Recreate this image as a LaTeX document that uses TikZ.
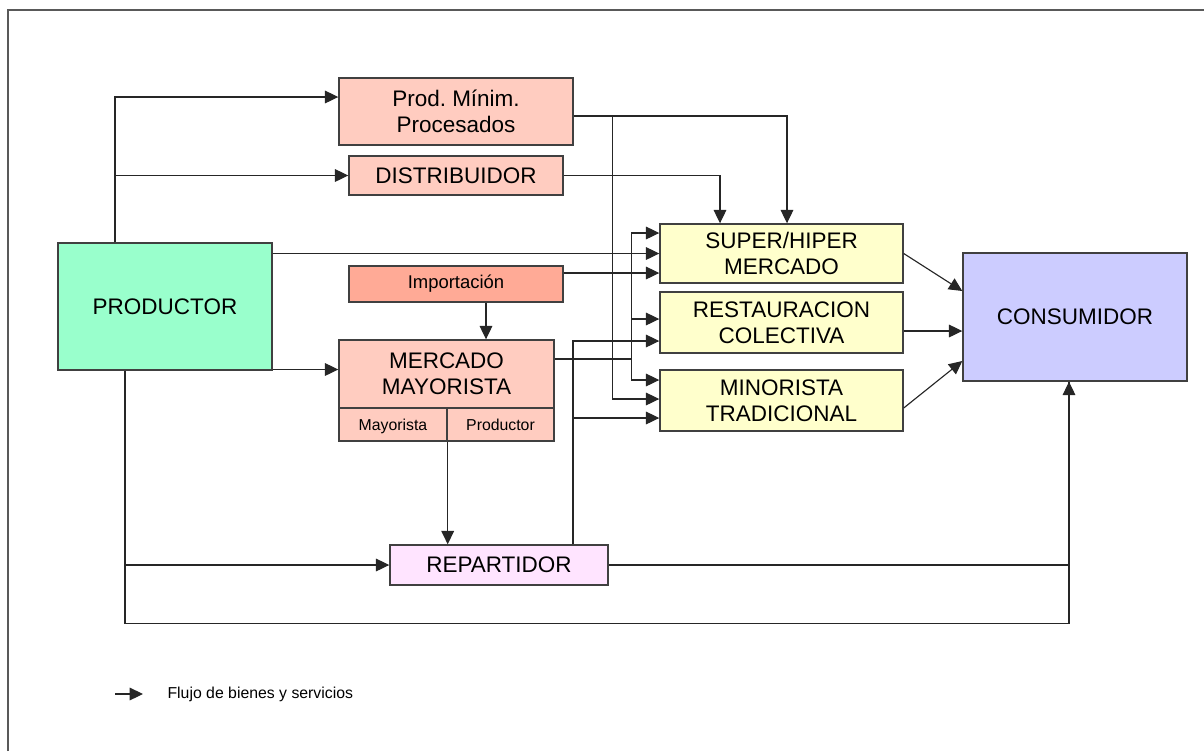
\documentclass[tikz,border=0pt]{standalone}
\usepackage{fontspec}
\setmainfont{Liberation Sans}
\frenchspacing
\usetikzlibrary{%
  arrows.meta,%
  positioning,%
  calc%
}
\definecolor{verdeprod}{RGB}{153,255,204}
\definecolor{salmon}{RGB}{255,204,192}
\definecolor{salmonosc}{RGB}{255,170,150}
\definecolor{amarillo}{RGB}{255,255,204}
\definecolor{lila}{RGB}{204,204,255}
\definecolor{rosa}{RGB}{255,228,255}

\begin{document}
\begin{tikzpicture}
  [
  x=0.2mm, y=-0.2mm,
  font=\fontsize{12.8}{14.7}\selectfont, draw=black!85, >={Triangle[length=7.6pt,width=7.2pt]}, line width=0.65pt,
  wh/.style 2 args={minimum width=#1*0.2mm, minimum height=#2*0.2mm},
  box/.style={rectangle, draw=black!75, line width=0.8pt, inner sep=0pt, align=center},
  medio/.style={font=\fontsize{10.5}{12}\selectfont},
  chico/.style={font=\fontsize{9}{10}\selectfont},
  celda/.style={chico, text height=1.6ex, text depth=0.3ex},
  marco/.style={draw=black!65, line width=0.8pt}
  ]
\useasboundingbox (0,0) rectangle (1204,751);

\draw[marco] (8,751) -- (8,10) -- (1204,10);

\node[box, fill=verdeprod, wh={214}{127}] (productor) at (165,306.5) {PRODUCTOR};
\node[box, fill=salmon, wh={234}{67}] (procesados) at (456,111.5) {Prod. Mínim.\\Procesados};
\node[box, fill=salmon, wh={214}{39}] (distribuidor) at (456,175.5) {DISTRIBUIDOR};
\node[box, fill=salmonosc, wh={214}{36}, medio] (importacion) at (456,284) {Importación};
\node[box, fill=salmon, wh={215}{68}] (mercado) at (446.5,374) {MERCADO\\MAYORISTA};
\node[box, fill=salmon, wh={108}{33}, celda] (mayorista) at (393,424.5) {Mayorista};
\node[box, fill=salmon, wh={107}{33}, celda] (prodsub) at (500.5,424.5) {Productor};
\node[box, fill=amarillo, wh={243}{59}] (super) at (781.5,253.5) {SUPER/HIPER\\MERCADO};
\node[box, fill=amarillo, wh={243}{61}] (restauracion) at (781.5,322.5) {RESTAURACION\\COLECTIVA};
\node[box, fill=amarillo, wh={243}{61}] (minorista) at (781.5,400.5) {MINORISTA\\TRADICIONAL};
\node[box, fill=lila, wh={224}{128}] (consumidor) at (1075,317) {CONSUMIDOR};
\node[box, fill=rosa, wh={218}{40}] (repartidor) at (499,565) {REPARTIDOR};

% productor hacia arriba
\draw[->] ($(productor.north)+(-50,0)$) |- ($(procesados.west)+(0,-14.5)$);
\draw[->] ($(productor.north)+(-50,0)$) |- (distribuidor.west);
\draw[->] (productor.east |- super.west) -- (super.west);
\draw[->] ($(productor.east)+(0,63)$) coordinate (p) -- (mercado.west |- p);

\draw[->] ($(importacion.east)+(0,-11)$) coordinate (i) -- (super.west |- i);
\draw[->] ($(importacion.south)+(30,0)$) coordinate (q) -- (mercado.north -| q);

\draw[->] ($(procesados.east)+(0,4.5)$) -| ($(super.north)+(5.5,0)$);
\draw[->] ($(procesados.east)+(0,4.5)$) -- ++(39,0) |- ($(minorista.west)+(0,-1.5)$);
\draw[->] (distribuidor.east) -| ($(super.north)+(-61.5,0)$);

% mercado mayorista
\draw ($(mercado.east)+(0,-15)$) -- ++(77,0) coordinate (bus);
\draw[->] (bus) |- ($(super.west)+(0,-20.5)$);
\draw[->] (bus) |- ($(restauracion.west)+(0,-3.5)$);
\draw[->] (bus) |- ($(minorista.west)+(0,-20.5)$);
\draw[->] (mayorista.south east) -- (repartidor.north -| mayorista.south east);

% repartidor
\draw[->] ($(repartidor.north)+(74,0)$) |- ($(restauracion.west)+(0,18.5)$);
\draw[->] ($(repartidor.north)+(74,0)$) |- ($(minorista.west)+(0,17.5)$);
\draw[->] ($(productor.south)+(-40,0)$) |- (repartidor.west);
\draw (repartidor.east) -| ($(consumidor.south)+(-6,0)$);
\draw[->] ($(productor.south)+(-40,0)$) -- ++(0,253) -| ($(consumidor.south)+(-6,0)$);

% al consumidor
\draw[->] (super.east) -- ($(consumidor.west)+(0,-26)$);
\draw[->] ($(restauracion.east)+(0,8.5)$) coordinate (r) -- (consumidor.west |- r);
\draw[->] ($(minorista.east)+(0,7.5)$) -- ($(consumidor.west)+(0,44)$);

\node[chico, anchor=west, inner sep=0pt] (leyenda) at (167,694) {Flujo de bienes y servicios};
\draw[->] ($(leyenda.west)+(-52,0)$) -- ++(28,0);

\end{tikzpicture}
\end{document}
